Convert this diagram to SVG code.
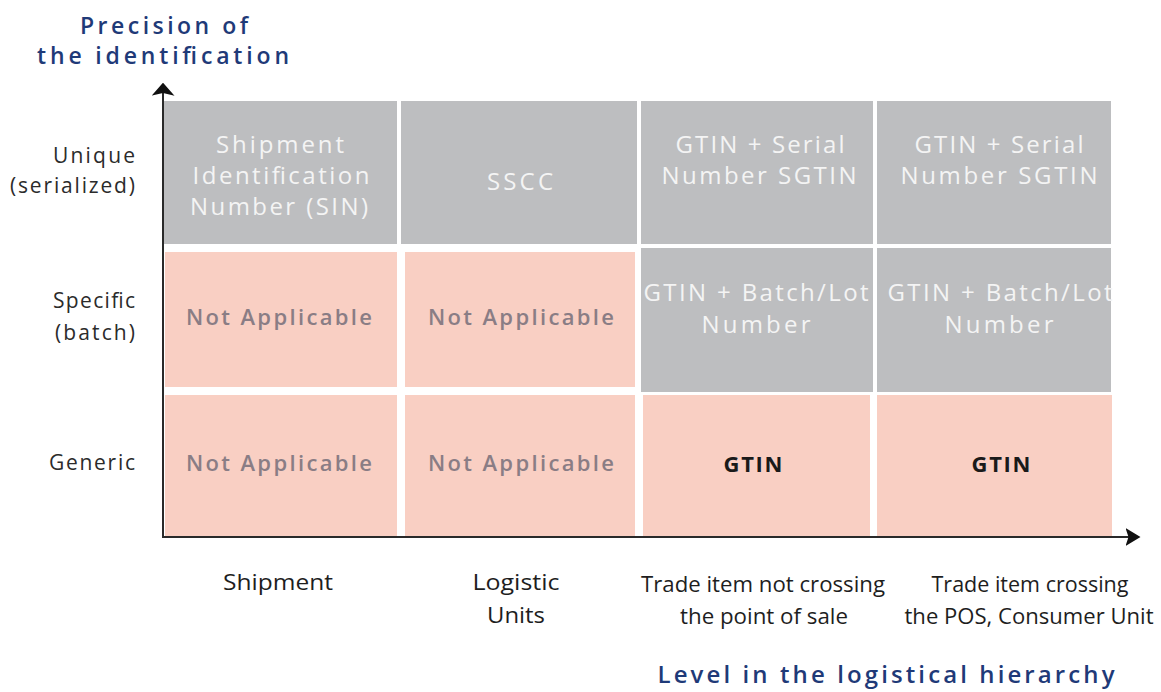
<svg xmlns="http://www.w3.org/2000/svg" width="1161" height="692" viewBox="0 0 1161 692">
<style>
.gray{fill:#bdbec0}
.pink{fill:#f9cfc3}
.wt{font-family:"Open Sans","Liberation Sans",sans-serif;font-size:24px;fill:#f4f4f4;text-anchor:middle}
.na{font-family:"Open Sans","Liberation Sans",sans-serif;font-size:22px;font-weight:600;fill:#8a7d85;text-anchor:middle}
.bk{font-family:"Open Sans","Liberation Sans",sans-serif;font-size:22px;font-weight:700;fill:#1a1a1a;text-anchor:middle}
.rl{font-family:"Open Sans","Liberation Sans",sans-serif;font-size:21px;fill:#2b2b2b;text-anchor:end}
.bl{font-family:"Open Sans","Liberation Sans",sans-serif;font-size:21px;fill:#1e1e1e;text-anchor:middle}
.ti{font-family:"Open Sans","Liberation Sans",sans-serif;font-weight:600;fill:#1f3a78;text-anchor:middle}
.ax{stroke:#2a2a2a;stroke-width:2;fill:none}
</style>
<defs>
<marker id="ahy" viewBox="0 0 10 10" refX="9" refY="5" markerWidth="13" markerHeight="23" markerUnits="userSpaceOnUse" orient="auto" preserveAspectRatio="none">
<path d="M0,0 L10,5 L0,10 L2,5 z" fill="#111"/>
</marker>
<marker id="ahx" viewBox="0 0 10 10" refX="9" refY="5" markerWidth="15" markerHeight="18" markerUnits="userSpaceOnUse" orient="auto" preserveAspectRatio="none">
<path d="M0,0 L10,5 L0,10 L2,5 z" fill="#111"/>
</marker>
</defs>

<g id="title-y">
<text class="ti" x="164" y="34" font-size="23" textLength="168">Precision of</text>
<text class="ti" x="163" y="64" font-size="23" textLength="252">the identification</text>
</g>

<g id="row-labels">
<text class="rl" x="135" y="163" textLength="82">Unique</text>
<text class="rl" x="135" y="193" textLength="125">(serialized)</text>
<text class="rl" x="135" y="308" textLength="82">Specific</text>
<text class="rl" x="135" y="340" textLength="80">(batch)</text>
<text class="rl" x="135" y="470" textLength="86">Generic</text>
</g>

<g id="cell-r1c1">
<rect class="gray" x="163" y="101" width="234" height="143"/>
<text class="wt" x="280" y="153" textLength="128">Shipment</text>
<text class="wt" x="281" y="184" textLength="177">Identification</text>
<text class="wt" x="279" y="215" textLength="178">Number (SIN)</text>
</g>
<g id="cell-r1c2">
<rect class="gray" x="401" y="101" width="236" height="143"/>
<text class="wt" x="520" y="190" textLength="66">SSCC</text>
</g>
<g id="cell-r1c3">
<rect class="gray" x="641" y="101" width="232" height="143"/>
<text class="wt" x="760" y="153" textLength="169">GTIN + Serial</text>
<text class="wt" x="759" y="184" textLength="195">Number SGTIN</text>
</g>
<g id="cell-r1c4">
<rect class="gray" x="877" y="101" width="234" height="143"/>
<text class="wt" x="999" y="153" textLength="169">GTIN + Serial</text>
<text class="wt" x="999" y="184" textLength="197">Number SGTIN</text>
</g>

<g id="cell-r2c1">
<rect class="pink" x="165" y="252" width="232" height="135"/>
<text class="na" x="279" y="325" textLength="186">Not Applicable</text>
</g>
<g id="cell-r2c2">
<rect class="pink" x="405" y="252" width="230" height="135"/>
<text class="na" x="521" y="325" textLength="186">Not Applicable</text>
</g>
<g id="cell-r2c3">
<rect class="gray" x="641" y="248" width="232" height="144"/>
<text class="wt" x="756" y="301" textLength="225">GTIN + Batch/Lot</text>
<text class="wt" x="756" y="333" textLength="109">Number</text>
</g>
<g id="cell-r2c4">
<rect class="gray" x="877" y="248" width="234" height="144"/>
<text class="wt" x="1000" y="301" textLength="225">GTIN + Batch/Lot</text>
<text class="wt" x="999" y="333" textLength="109">Number</text>
</g>

<g id="cell-r3c1">
<rect class="pink" x="165" y="395" width="232" height="141"/>
<text class="na" x="279" y="471" textLength="186">Not Applicable</text>
</g>
<g id="cell-r3c2">
<rect class="pink" x="405" y="395" width="230" height="141"/>
<text class="na" x="521" y="471" textLength="186">Not Applicable</text>
</g>
<g id="cell-r3c3">
<rect class="pink" x="643" y="395" width="227" height="141"/>
<text class="bk" x="753" y="472" textLength="59">GTIN</text>
</g>
<g id="cell-r3c4">
<rect class="pink" x="877" y="395" width="235" height="141"/>
<text class="bk" x="1001" y="472" textLength="59">GTIN</text>
</g>

<g id="connectors">
<line class="ax" x1="163" y1="537" x2="163" y2="84" marker-end="url(#ahy)"/>
<line class="ax" x1="162" y1="537" x2="1139" y2="537" marker-end="url(#ahx)"/>
</g>

<g id="col-labels">
<text class="bl" x="278" y="590" textLength="110" lengthAdjust="spacingAndGlyphs">Shipment</text>
<text class="bl" x="516" y="590" textLength="87" lengthAdjust="spacingAndGlyphs">Logistic</text>
<text class="bl" x="516" y="623" textLength="58" lengthAdjust="spacingAndGlyphs">Units</text>
<text class="bl" x="763" y="592" textLength="244" lengthAdjust="spacingAndGlyphs">Trade item not crossing</text>
<text class="bl" x="764" y="624" textLength="168" lengthAdjust="spacingAndGlyphs">the point of sale</text>
<text class="bl" x="1030" y="592" textLength="197" lengthAdjust="spacingAndGlyphs">Trade item crossing</text>
<text class="bl" x="1029" y="624" textLength="249" lengthAdjust="spacingAndGlyphs">the POS, Consumer Unit</text>
</g>

<g id="title-x">
<text class="ti" x="886" y="683" font-size="24" textLength="457">Level in the logistical hierarchy</text>
</g>
</svg>
